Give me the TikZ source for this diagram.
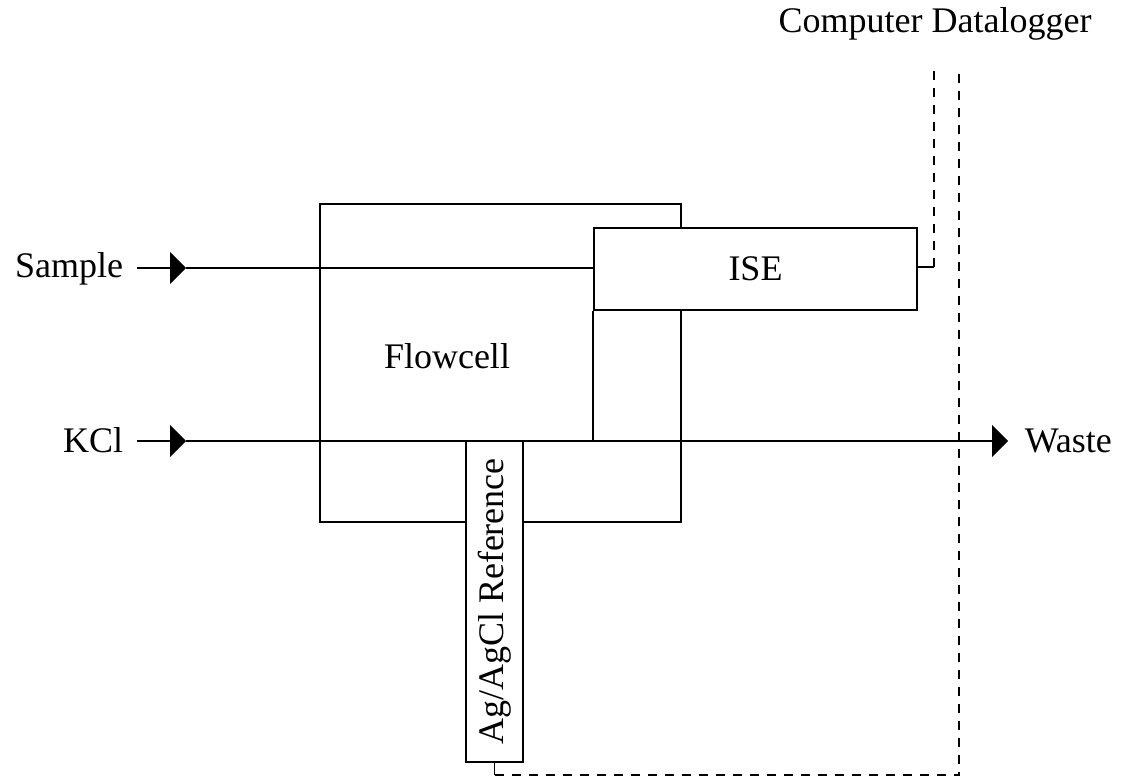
\documentclass[tikz,border=0pt]{standalone}
\usepackage{fontspec}
\setmainfont{Liberation Serif}
\usetikzlibrary{arrows.meta}
\begin{document}
\begin{tikzpicture}[x=1pt,y=-1pt,line width=1.6pt,
  txt/.style={font=\fontsize{36}{40}\selectfont, inner sep=0pt},
  box/.style={draw, fill=white, inner sep=0pt, font=\fontsize{36}{40}\selectfont},
  feed/.style={-{Triangle[length=16pt,width=32pt]}},
  wire/.style={dash pattern=on 9pt off 8pt, line width=1.5pt}]
\useasboundingbox (0,0) rectangle (1127,778);

% flow cell body and its label
\node[box, minimum width=361pt, minimum height=318pt] (flowcell) at (500.5,363) {};
\node[txt, anchor=base] (flowlabel) at (447,368) {Flowcell};

% electrodes
\node[box, minimum width=323pt, minimum height=82pt] (ise) at (755.5,269) {ISE};
\node[box, minimum width=57pt, minimum height=321pt] (ref) at (494.5,601.5) {\rotatebox{90}{Ag/AgCl Reference}};

% stream labels
\node[txt, anchor=base east] (sample) at (124,277) {Sample};
\node[txt, anchor=base east] (kcl) at (124,452) {KCl};
\node[txt, anchor=base west] (waste) at (1024,452) {Waste};
\node[txt, anchor=base] (logger) at (935,33) {Computer Datalogger};

% routing points
\coordinate (sIn) at (137,268);
\coordinate (sTip) at (186,268);
\coordinate (kIn) at (137,441);
\coordinate (kTip) at (186,441);
\coordinate (wTip) at (1008,441);
\coordinate (dIse) at (934,267);
\coordinate (dTop) at (934,71);
\coordinate (rLow) at (494.5,775);
\coordinate (rEnd) at (959,775);
\coordinate (rTop) at (959,71);

% sample stream into the ISE
\draw[feed] (sIn) -- (sTip);
\draw (sTip) -- (sTip -| ise.west);

% carrier stream through the cell to waste
\draw[feed] (kIn) -- (kTip);
\draw[feed] (kTip) -- (wTip);
\draw (ise.south west) -- (ise.south west |- kTip);

% signal leads to the datalogger
\draw (dIse -| ise.east) -- (dIse);
\draw[wire] (dIse) -- (dTop);
\draw (ref.south) -- (rLow);
\draw[wire] (rLow) -- (rEnd) -- (rTop);
\end{tikzpicture}
\end{document}
